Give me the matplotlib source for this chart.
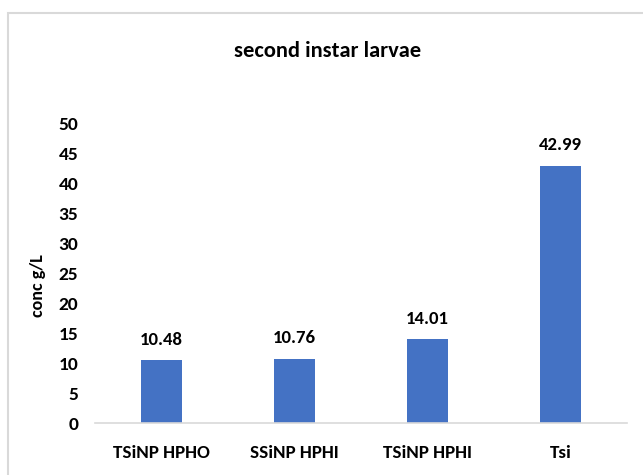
import matplotlib
matplotlib.use("Agg")
import matplotlib.pyplot as plt
from matplotlib.patches import Rectangle
from matplotlib import font_manager

categories = ["TSiNP HPHO", "SSiNP HPHI", "TSiNP HPHI", "Tsi"]
values = [10.48, 10.76, 14.01, 42.99]
labels = ["10.48", "10.76", "14.01", "42.99"]
yticks = [0, 5, 10, 15, 20, 25, 30, 35, 40, 45, 50]

# pick a narrow bold face if available (Calibri-like), else Open Sans
fl = font_manager.fontManager.ttflist
cand = None
for pref in ["Carlito", "Liberation Sans Narrow", "Roboto Condensed", "Open Sans Condensed",
             "Noto Sans Condensed", "DejaVu Sans Condensed"]:
    for f in fl:
        if f.name == pref and (f.weight in ("bold", 700) or "Bold" in f.fname):
            cand = f.fname
            break
    if cand:
        break
if cand is None:
    for f in fl:
        st = str(f.stretch).lower()
        if ("condensed" in st or "Condensed" in f.fname) and ("Bold" in f.fname) \
                and "Semi" not in f.fname and "Extra" not in f.fname and "Italic" not in f.fname \
                and "Oblique" not in f.fname and "Mono" not in f.fname and "Serif" not in f.fname:
            cand = f.fname
            break

if cand:
    FP = font_manager.FontProperties(fname=cand)
    scale = 1.0
else:
    FP = font_manager.FontProperties(family=["Open Sans", "DejaVu Sans"], weight="bold")
    scale = 0.92

def fp(size):
    p = FP.copy()
    p.set_size(size * scale)
    if not cand:
        p.set_weight("bold")
    return p

fig = plt.figure(figsize=(6.43, 4.75), dpi=100)
W, H = 643, 475
ax = fig.add_axes([95 / W, 1 - 423 / H, (627 - 95) / W, (423 - 124) / H])

x = list(range(len(categories)))
ax.bar(x, values, width=0.31, color="#4472C4", zorder=2)
for xi, v, lab in zip(x, values, labels):
    ax.annotate(lab, (xi, v), xytext=(0, 9), textcoords="offset points",
                ha="center", va="bottom", fontproperties=fp(13.5), color="#000000")

ax.set_xlim(-0.5, len(categories) - 0.5)
ax.set_ylim(0, 50)
ax.set_yticks(yticks)
ax.set_yticklabels([str(t) for t in yticks], fontproperties=fp(14))
ax.set_xticks(x)
ax.set_xticklabels(categories, fontproperties=fp(13.7))
ax.tick_params(axis="both", length=0)
ax.tick_params(axis="y", pad=12)
ax.tick_params(axis="x", pad=16)
for s in ["top", "right", "left"]:
    ax.spines[s].set_visible(False)
ax.spines["bottom"].set_color("#d9d9d9")
ax.spines["bottom"].set_linewidth(1.2)

ax.set_ylabel("conc g/L", fontproperties=fp(13))
ax.yaxis.set_label_coords(-(95 - 46) / (627 - 95), (423 - 286) / (423 - 124))

fig.text(328 / W, 1 - 51 / H, "second instar larvae", ha="center", va="center",
         fontproperties=fp(16.2))

fig.patches.append(Rectangle((8 / W, -0.1), 1.2, 1.1 - 13 / H,
                             transform=fig.transFigure, fill=False,
                             edgecolor="#d9d9d9", linewidth=1.5))

fig.savefig("out.png", dpi=100)
